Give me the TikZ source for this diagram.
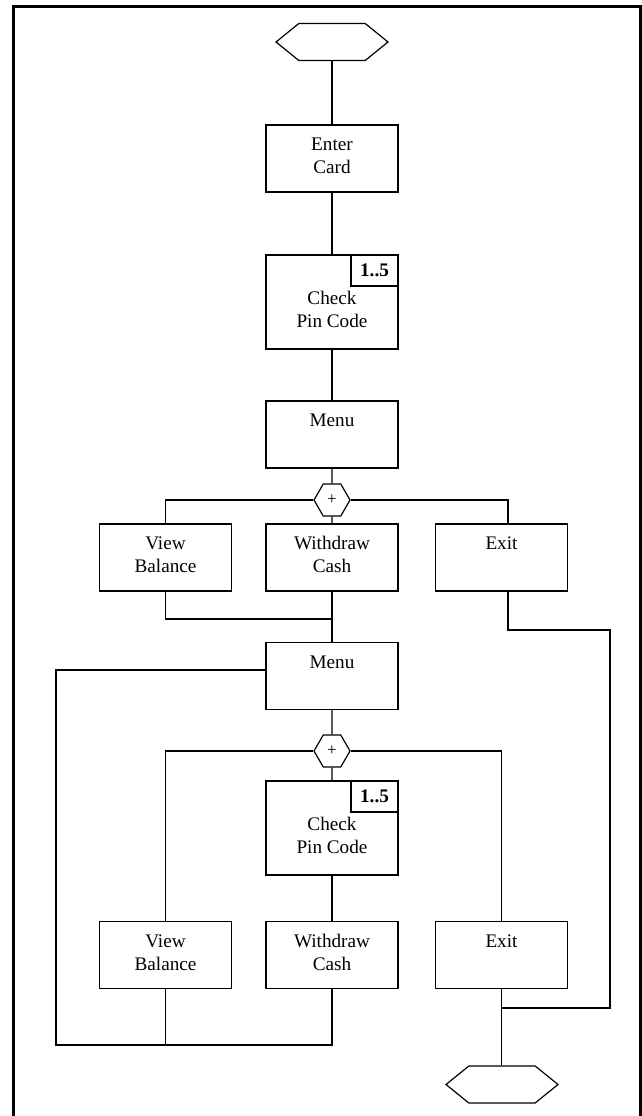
\documentclass[tikz,border=0pt]{standalone}
\usepackage{fontspec}
\setmainfont{Liberation Serif}
\usetikzlibrary{shapes.symbols}
% box text: height of box, height of first line, lines
\newcommand{\stagetext}[3]{\parbox[c][#1][t]{132pt}{\centering\rule{0pt}{#2}#3}}
\begin{document}
\begin{tikzpicture}[x=1pt,y=-1pt,line width=1.2pt]
        \tikzset{stage/.style={draw,rectangle,inner sep=0pt,font=\fontsize{19.2}{23}\selectfont}}
        \tikzset{limit/.style={draw,rectangle,inner sep=0pt,minimum width=47pt,minimum height=31pt,font=\fontsize{19.2}{23}\selectfont\bfseries}}
        \tikzset{terminal/.style={draw,signal,signal to=east and west,signal pointer angle=78,minimum width=112pt,minimum height=37pt,inner sep=0pt}}
        \tikzset{junction/.style={draw,signal,signal to=east and west,signal pointer angle=120,minimum width=36pt,minimum height=32pt,inner sep=0pt,font=\fontsize{17}{17}\selectfont}}
        \useasboundingbox (0,0) rectangle (642,1116);
        \draw[line width=3pt] (13.5,1130) -- (13.5,6.5) -- (640.5,6.5) -- (640.5,1130);
        \node[terminal] (start) at (332,42) {};
        \node[stage] (enter) at (332,158.5) {\stagetext{67pt}{25.5pt}{Enter\\Card}};
        \node[stage] (check1) at (332,302) {\stagetext{94pt}{49pt}{Check\\Pin Code}};
        \node[limit,anchor=north east] (limit1) at (check1.north east) {1..5};
        \node[stage] (menu1) at (332,434.5) {\stagetext{67pt}{25.5pt}{Menu}};
        \node[junction] (plus1) at (332,500) {+};
        \node[stage] (view1) at (165.5,557.5) {\stagetext{67pt}{25.5pt}{View\\Balance}};
        \node[stage] (cash1) at (332,557.5) {\stagetext{67pt}{25.5pt}{Withdraw\\Cash}};
        \node[stage] (exit1) at (501.5,557.5) {\stagetext{67pt}{25.5pt}{Exit}};
        \node[stage] (menu2) at (332,676) {\stagetext{67pt}{25.5pt}{Menu}};
        \node[junction] (plus2) at (332,751) {+};
        \node[stage] (check2) at (332,828) {\stagetext{94pt}{49pt}{Check\\Pin Code}};
        \node[limit,anchor=north east] (limit2) at (check2.north east) {1..5};
        \node[stage] (view2) at (165.5,955) {\stagetext{67pt}{25.5pt}{View\\Balance}};
        \node[stage] (cash2) at (332,955) {\stagetext{67pt}{25.5pt}{Withdraw\\Cash}};
        \node[stage] (exit2) at (501.5,955) {\stagetext{67pt}{25.5pt}{Exit}};
        \node[terminal] (stop) at (502,1084.5) {};
        \coordinate (join1) at (332,619);
        \coordinate (turn1) at (610,630);
        \coordinate (turn2) at (610,1008);
        \coordinate (loop1) at (56,670);
        \coordinate (loop2) at (56,1045);
        \draw (start) -- (enter);
        \draw (enter) -- (check1);
        \draw (check1) -- (menu1);
        \draw (menu1) -- (plus1);
        \draw (plus1) -| (view1);
        \draw (plus1) -- (cash1);
        \draw (plus1) -| ([xshift=6.5pt]exit1.north);
        \draw (view1) |- (join1);
        \draw (cash1) -- (menu2);
        \draw ([xshift=6.5pt]exit1.south) |- (turn1) -- (turn2) -- (turn2 -| exit2);
        \draw (menu2) -- (plus2);
        \draw ([yshift=6pt]menu2.west) -- (loop1) -- (loop2) -| (cash2);
        \draw (plus2) -| (view2);
        \draw (plus2) -- (check2);
        \draw (plus2) -| (exit2);
        \draw (check2) -- (cash2);
        \draw (view2) -- (view2 |- loop2);
        \draw (exit2) -- (exit2.south |- stop.north);
\end{tikzpicture}
\end{document}
